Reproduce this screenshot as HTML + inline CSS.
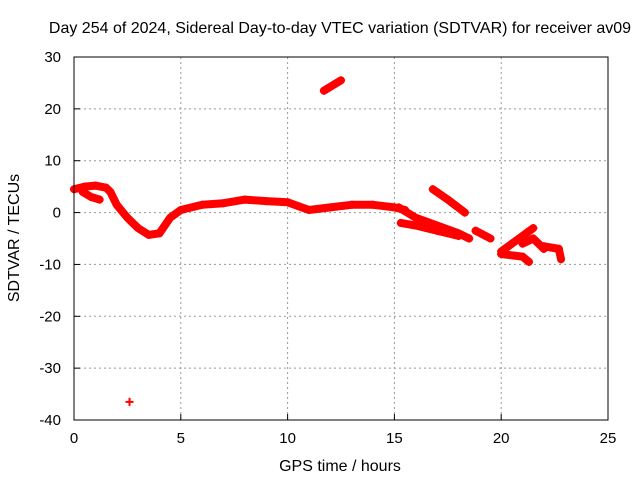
<!DOCTYPE html>
<html><head><meta charset="utf-8"><style>body{margin:0;background:#fff}text{font-family:"Liberation Sans",sans-serif;font-size:15px;fill:#000}.t{font-size:16px}</style></head>
<body>
<svg id="c" width="640" height="480">
<rect x="74" y="57" width="534" height="363" fill="#fff" stroke="none"/>
<text class="t" x="340" y="33" text-anchor="middle">Day 254 of 2024, Sidereal Day-to-day VTEC variation (SDTVAR) for receiver av09</text>
<text class="t" x="340" y="471" text-anchor="middle">GPS time / hours</text>
<text class="t" transform="translate(19,238) rotate(-90)" text-anchor="middle">SDTVAR / TECUs</text>
<g id="grid"></g><g id="series"></g>
<rect x="74" y="57" width="534" height="363" fill="none" stroke="#000" stroke-width="1"/>
</svg>
<script>
const xTicks=[0,5,10,15,20,25];
const yTicks=[30,20,10,0,-10,-20,-30,-40];
const arcMainT=[0,0.5,1,1.5,1.7,2,2.5,3,3.5,4,4.5,5,6,7,8,9,10,11,12,13,14,15,15.5];
const arcMainV=[4.5,5,5.2,4.8,4,1.5,-1,-3,-4.3,-4,-1,0.5,1.5,1.8,2.5,2.2,2,0.5,1,1.5,1.5,1,0.5];
const arcBranchT=[0.4,0.8,1.2];const arcBranchV=[4,3,2.5];
const arcB1T=[15.2,16,17,18,18.5];const arcB1V=[1,-1,-2.5,-4,-5];
const arcB2T=[15.3,16,17,18];const arcB2V=[-2,-2.5,-3.5,-4.5];
const arcCT=[16.8,17.5,18.3];const arcCV=[4.5,2.5,0];
const arcDT=[18.8,19.5];const arcDV=[-3.5,-5];
const arcET=[20,20.5,21.5];const arcEV=[-7.5,-6,-3];
const arcFT=[20,21,21.3];const arcFV=[-8,-8.5,-9.5];
const arcGT=[21,21.5,22];const arcGV=[-6,-5,-7];
const arcHT=[22,22.7,22.8];const arcHV=[-6.5,-7,-9];
const arcIT=[11.7,12.5];const arcIV=[23.5,25.5];
const arcJT=[2.6];const arcJV=[-36.5];
const X=t=>74+t/25*534, Y=v=>57+(30-v)/70*363;
const NS='http://www.w3.org/2000/svg';
const g=document.getElementById('grid'), s=document.getElementById('series');
function mk(tag,at,p){const e=document.createElementNS(NS,tag);for(const k in at)e.setAttribute(k,at[k]);p.appendChild(e);return e;}
xTicks.forEach(t=>{
 if(t>0&&t<25){const l=mk('line',{x1:X(t),x2:X(t),y1:57,y2:420,stroke:'#999','stroke-dasharray':'2,3'},g);
 
 }
 const tk=mk('line',{x1:X(t),x2:X(t),y1:420,y2:414,stroke:'#000'},g);
 
 
 const tx=mk('text',{x:X(t),y:443,'text-anchor':'middle'},g);tx.textContent=t;
 
 
});
yTicks.forEach(v=>{
 if(v<30&&v>-40){const l=mk('line',{x1:74,x2:608,y1:Y(v),y2:Y(v),stroke:'#999','stroke-dasharray':'2,3'},g);
 
 }
 const tk=mk('line',{x1:74,x2:80,y1:Y(v),y2:Y(v),stroke:'#000'},g);
 
 
 const tx=mk('text',{x:61,y:Y(v)+5,'text-anchor':'end'},g);tx.textContent=v;
 
 
});
const arcs=[[arcMainT,arcMainV],[arcBranchT,arcBranchV],[arcB1T,arcB1V],[arcB2T,arcB2V],[arcCT,arcCV],[arcDT,arcDV],[arcET,arcEV],[arcFT,arcFV],[arcGT,arcGV],[arcHT,arcHV],[arcIT,arcIV],[arcJT,arcJV]];
arcs.forEach(([T,V])=>{
 const pts=T.map((t,i)=>X(t)+','+Y(V[i])).join(' ');
 if(T.length>1){const p=mk('polyline',{points:pts,fill:'none',stroke:'#f00','stroke-width':8,'stroke-linejoin':'round','stroke-linecap':'round'},s);
 
 }
 T.forEach((t,i)=>{const x=X(t),y=Y(V[i]);
  const m=mk('path',{d:`M${x-4},${y}H${x+4}M${x},${y-4}V${y+4}`,stroke:'#f00','stroke-width':2},s);
  
  });
});
</script>
</body></html>
